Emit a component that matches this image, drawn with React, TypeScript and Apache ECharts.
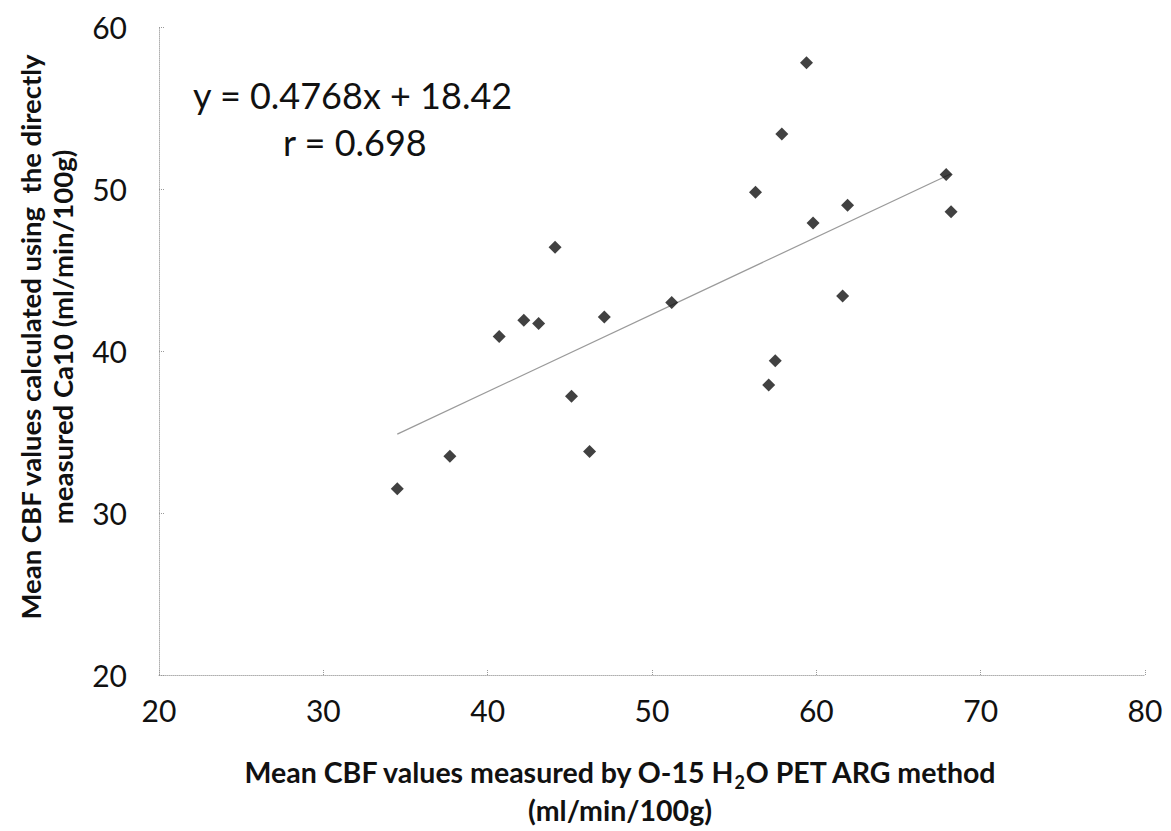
import React, { useEffect, useRef } from "react";
import * as echarts from "echarts";

const petValues = [34.5, 37.7, 40.7, 42.2, 43.1, 44.1, 45.1, 46.2, 47.1, 51.2, 56.3, 57.1, 57.5, 57.9, 59.4, 59.8, 61.6, 61.9, 67.9, 68.2];
const ca10Values = [31.5, 33.5, 40.9, 41.9, 41.7, 46.4, 37.2, 33.8, 42.1, 43.0, 49.8, 37.9, 39.4, 53.4, 57.8, 47.9, 43.4, 49.0, 50.9, 48.6];
const slope = 0.4768;
const intercept = 18.42;
const equationText = "y = 0.4768x + 18.42";
const rText = "r = 0.698";
const xTitle1 = "Mean CBF values measured by O-15 H";
const xTitle2 = "O PET ARG method";
const xTitleUnit = "(ml/min/100g)";
const yTitle1 = "Mean CBF values calculated using  the directly";
const yTitle2 = "measured Ca10 (ml/min/100g)";

const FONT = "Lato, 'Open Sans', sans-serif";

export default function App() {
  const ref = useRef<HTMLDivElement>(null);
  useEffect(() => {
    if (!ref.current) return;
    const chart = echarts.init(ref.current, undefined, { renderer: "svg" });
    const points = petValues.map((x, i) => [x, ca10Values[i]]);
    const xMin = Math.min(...petValues);
    const xMax = Math.max(...petValues);
    const trend = [
      [xMin, slope * xMin + intercept],
      [xMax, slope * xMax + intercept],
    ];
    const axisLine = { show: true, lineStyle: { color: "#b0b0b0", type: "dotted" as const, width: 1 } };
    chart.setOption({
      animation: false,
      backgroundColor: "#ffffff",
      grid: { left: 159, right: 26, top: 27, bottom: 156, containLabel: false, outerBoundsMode: "none" },
      xAxis: {
        type: "value",
        min: 20,
        max: 80,
        interval: 10,
        axisLine,
        axisTick: { show: true, inside: true, length: 6, lineStyle: { color: "#999", type: "dotted" } },
        splitLine: { show: false },
        axisLabel: { fontFamily: FONT, fontSize: 30, color: "#111", margin: 20 },
        name: `{t|${xTitle1}}{s|2}{t|${xTitle2}}\n{t|${xTitleUnit}}`,
        nameLocation: "middle",
        nameGap: 78,
        nameTextStyle: {
          lineHeight: 38,
          padding: [0, 64, 0, 0],
          rich: {
            t: { fontFamily: FONT, fontSize: 28.5, fontWeight: "bold", color: "#111", lineHeight: 38 },
            s: { fontFamily: FONT, fontSize: 18, fontWeight: "bold", color: "#111", verticalAlign: "bottom", padding: [14, 0, 0, 0], lineHeight: 38 },
          },
        },
      },
      yAxis: {
        type: "value",
        min: 20,
        max: 60,
        interval: 10,
        axisLine,
        axisTick: { show: true, inside: true, length: 6, lineStyle: { color: "#999", type: "dotted" } },
        splitLine: { show: false },
        axisLabel: { fontFamily: FONT, fontSize: 30, color: "#111", margin: 32 },
        name: `{t|${yTitle1}}\n{t|${yTitle2}}`,
        nameLocation: "middle",
        nameGap: 81,
        nameRotate: 90,
        nameTextStyle: {
          lineHeight: 32,
          align: "center",
          padding: [0, 0, 0, 28],
          rich: {
            t: { fontFamily: FONT, fontSize: 27.5, fontWeight: "bold", color: "#111", lineHeight: 32, align: "center" },
          },
        },
      },
      graphic: [
        { type: "text", left: 193, top: 77, style: { text: equationText, font: `36px ${FONT}`, fill: "#111" } },
        { type: "text", left: 283, top: 124, style: { text: rText, font: `36px ${FONT}`, fill: "#111" } },
      ],
      series: [
        {
          type: "line",
          data: trend,
          symbol: "none",
          lineStyle: { color: "#9a9a9a", width: 1.2 },
          silent: true,
          z: 1,
        },
        {
          type: "scatter",
          data: points,
          symbol: "diamond",
          symbolSize: 13,
          itemStyle: { color: "#111" },
          z: 2,
        },
      ],
    });
    return () => chart.dispose();
  }, []);
  return <div ref={ref} style={{ position: "fixed", left: 0, top: 0, width: 1171, height: 831 }} />;
}
